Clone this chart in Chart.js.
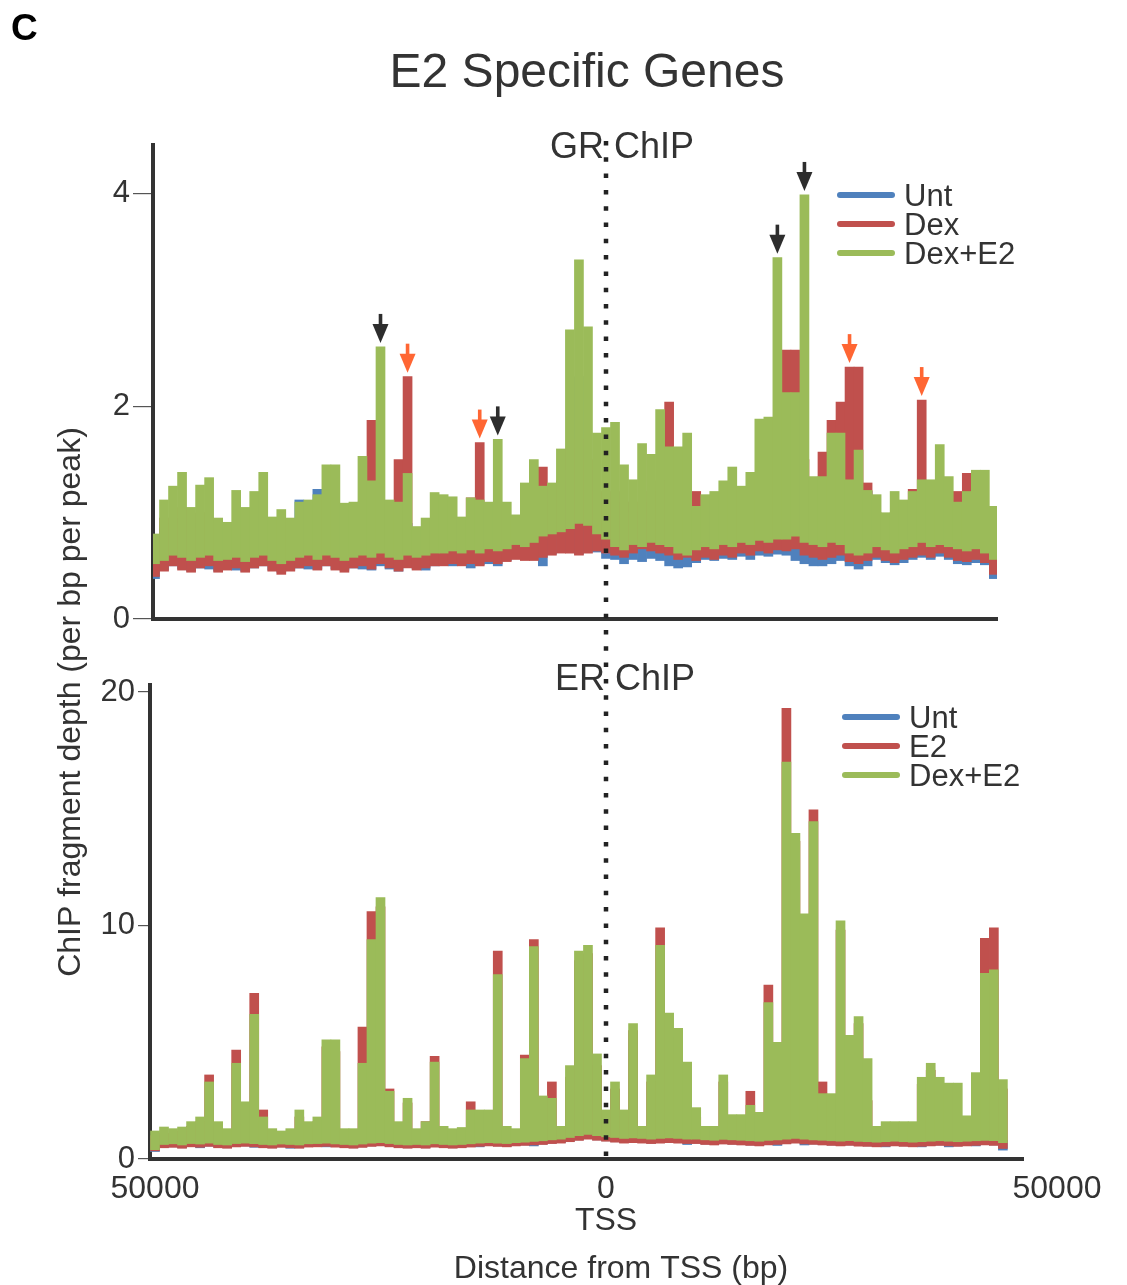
<!DOCTYPE html>
<html>
<head>
<meta charset="utf-8">
<script src="https://cdn.jsdelivr.net/npm/chart.js@4.4.1/dist/chart.umd.min.js"></script>
<style>
  body { margin: 0; background: #fff; }
  #page { position: relative; width: 1127px; height: 1285px; }
  #page canvas { position: absolute; left: 0; top: 0; }
</style>
</head>
<body>
<div id="page">
  <canvas id="gr" width="1127" height="1285"></canvas>
  <canvas id="er" width="1127" height="1285"></canvas>
</div>
<script>
var FONT = '"Liberation Sans", Arial, sans-serif';
var TEXT = '#333';
var AXIS = '#333';
var BLACK_ARROW = '#2d2d2d', ORANGE_ARROW = '#ff6633';

// bin centres, kb from TSS
var binKb = [-50,-49,-48,-47,-46,-45,-44,-43,-42,-41,
  -40,-39,-38,-37,-36,-35,-34,-33,-32,-31,
  -30,-29,-28,-27,-26,-25,-24,-23,-22,-21,
  -20,-19,-18,-17,-16,-15,-14,-13,-12,-11,
  -10,-9,-8,-7,-6,-5,-4,-3,-2,-1,
  0,1,2,3,4,5,6,7,8,9,
  10,11,12,13,14,15,16,17,18,19,
  20,21,22,23,24,25,26,27,28,29,
  30,31,32,33,34,35,36,37,38,39,
  40,41,42,43,44];

// GR ChIP: per-bin low / high of the depth trace
var grUntLo = [0.38,0.46,0.50,0.47,0.45,0.48,0.47,0.45,0.47,0.46,
  0.45,0.48,0.50,0.46,0.44,0.46,0.48,0.47,0.47,0.50,
  0.47,0.46,0.48,0.47,0.46,0.50,0.47,0.45,0.49,0.47,
  0.46,0.50,0.51,0.50,0.51,0.48,0.51,0.52,0.50,0.55,
  0.57,0.56,0.56,0.50,0.61,0.63,0.63,0.61,0.63,0.63,
  0.57,0.56,0.52,0.56,0.54,0.57,0.55,0.50,0.48,0.49,
  0.53,0.56,0.55,0.57,0.56,0.59,0.56,0.60,0.59,0.61,
  0.60,0.55,0.52,0.50,0.50,0.52,0.55,0.50,0.47,0.50,
  0.56,0.53,0.51,0.53,0.56,0.58,0.56,0.59,0.56,0.52,
  0.51,0.53,0.51,0.38];
var grUntHi = [0.70,0.85,0.85,0.95,0.80,0.90,0.90,0.75,0.78,0.85,
  0.80,0.85,0.90,0.78,0.82,0.78,1.12,0.85,1.22,0.95,
  0.90,0.85,0.85,1.00,0.90,1.00,0.85,0.90,0.90,0.78,
  0.80,0.85,0.85,0.90,0.82,0.90,0.88,0.90,0.92,0.85,
  0.88,0.95,1.00,1.20,1.00,1.10,1.40,2.28,1.40,1.10,
  1.00,1.05,1.00,0.95,1.00,1.05,1.10,1.00,0.95,0.90,
  0.95,0.95,0.95,1.00,1.05,0.95,1.00,1.10,1.20,1.20,
  1.20,1.20,1.20,1.00,1.00,1.10,1.10,1.00,1.05,1.20,
  0.95,0.90,0.95,1.00,1.00,1.00,1.00,1.00,0.95,1.00,
  1.00,1.00,0.95,0.85];
var grDexLo = [0.40,0.45,0.50,0.46,0.44,0.48,0.50,0.44,0.46,0.48,
  0.44,0.48,0.50,0.45,0.42,0.45,0.48,0.50,0.46,0.50,
  0.46,0.44,0.48,0.50,0.47,0.52,0.48,0.45,0.48,0.46,
  0.48,0.50,0.50,0.52,0.50,0.52,0.50,0.54,0.52,0.54,
  0.56,0.55,0.55,0.58,0.60,0.62,0.62,0.60,0.62,0.64,
  0.62,0.60,0.58,0.62,0.66,0.64,0.62,0.60,0.56,0.58,
  0.55,0.58,0.56,0.60,0.58,0.62,0.60,0.64,0.62,0.65,
  0.64,0.66,0.60,0.58,0.56,0.58,0.60,0.54,0.52,0.55,
  0.58,0.55,0.53,0.56,0.58,0.60,0.58,0.62,0.58,0.55,
  0.54,0.56,0.53,0.42];
var grDexHi = [0.70,0.95,0.90,1.05,0.85,1.00,0.95,0.80,0.80,0.90,
  0.85,0.90,0.95,0.80,0.85,0.80,0.90,0.85,0.95,1.00,
  0.95,0.90,0.90,1.10,1.87,1.10,0.90,1.50,2.28,0.80,
  0.85,0.90,0.90,0.95,0.85,1.14,1.66,0.95,1.00,0.90,
  0.90,1.05,1.20,1.43,1.10,1.30,1.60,1.69,1.50,1.20,
  1.10,1.20,1.10,1.00,1.10,1.20,1.30,2.04,1.20,1.00,
  1.20,1.00,1.00,1.05,1.10,1.00,1.10,1.20,1.30,1.40,
  2.53,2.53,1.50,1.20,1.57,1.87,2.04,2.37,2.37,1.28,
  1.00,0.95,1.00,1.10,1.22,2.06,1.20,1.10,1.00,1.20,
  1.37,1.10,1.00,0.90];
var grDexE2Lo = [0.52,0.55,0.60,0.58,0.55,0.58,0.60,0.55,0.56,0.58,
  0.54,0.58,0.60,0.55,0.52,0.55,0.58,0.60,0.56,0.60,
  0.58,0.55,0.58,0.60,0.58,0.62,0.58,0.56,0.60,0.58,
  0.60,0.62,0.62,0.64,0.62,0.65,0.62,0.66,0.64,0.66,
  0.70,0.68,0.72,0.78,0.80,0.82,0.85,0.90,0.88,0.80,
  0.75,0.68,0.65,0.70,0.68,0.72,0.70,0.68,0.62,0.60,
  0.65,0.68,0.66,0.70,0.68,0.72,0.70,0.74,0.72,0.75,
  0.75,0.78,0.72,0.70,0.68,0.72,0.70,0.62,0.60,0.62,
  0.68,0.65,0.62,0.66,0.68,0.72,0.68,0.70,0.68,0.66,
  0.64,0.66,0.62,0.56];
var grDexE2Hi = [0.80,1.12,1.25,1.38,1.05,1.26,1.33,0.95,0.91,1.21,
  1.05,1.20,1.38,0.96,1.03,0.95,1.10,1.12,1.17,1.45,
  1.45,1.09,1.10,1.53,1.30,2.56,1.12,1.10,1.37,0.87,
  0.95,1.19,1.17,1.15,0.96,1.14,1.12,1.10,1.69,1.10,
  0.98,1.28,1.50,1.25,1.28,1.60,2.72,3.38,2.75,1.75,
  1.80,1.85,1.45,1.31,1.65,1.55,1.97,1.62,1.62,1.75,
  1.06,1.17,1.20,1.30,1.43,1.25,1.38,1.88,1.90,3.40,
  2.13,2.13,3.99,1.34,1.34,1.75,1.75,1.31,1.59,1.21,
  1.17,1.00,1.20,1.12,1.20,1.31,1.31,1.64,1.34,1.10,
  1.20,1.40,1.40,1.06];

// ER ChIP: per-bin low / high of the depth trace
var erUntLo = [0.32,0.50,0.52,0.48,0.54,0.48,0.55,0.50,0.48,0.54,
  0.56,0.50,0.50,0.48,0.52,0.46,0.48,0.53,0.54,0.52,
  0.53,0.50,0.48,0.52,0.56,0.58,0.54,0.50,0.48,0.50,
  0.48,0.53,0.50,0.48,0.50,0.53,0.52,0.58,0.56,0.54,
  0.58,0.60,0.56,0.64,0.68,0.70,0.76,0.82,0.87,0.82,
  0.78,0.74,0.70,0.72,0.70,0.68,0.70,0.72,0.70,0.62,
  0.68,0.64,0.62,0.66,0.64,0.62,0.60,0.58,0.62,0.58,
  0.67,0.70,0.60,0.64,0.62,0.60,0.58,0.60,0.57,0.56,
  0.54,0.52,0.58,0.56,0.54,0.52,0.58,0.60,0.52,0.56,
  0.58,0.56,0.62,0.60,0.38];
var erUntHi = [0.80,0.90,0.90,1.00,0.90,1.00,0.90,1.00,0.90,1.00,
  0.90,1.10,0.90,0.90,1.00,0.90,1.10,0.90,0.90,1.20,
  1.00,0.90,1.00,0.90,1.10,1.00,0.90,0.90,1.10,0.90,
  1.00,1.20,0.90,1.00,0.90,1.10,0.90,1.00,1.20,0.90,
  0.90,1.20,1.10,1.00,1.30,1.00,1.50,2.20,2.00,1.20,
  1.00,1.30,1.00,1.10,1.00,1.10,1.50,1.10,1.00,1.00,
  1.00,1.00,1.00,1.30,1.00,1.00,1.00,1.00,1.40,1.00,
  1.40,1.20,1.00,1.50,1.40,1.00,1.20,1.00,1.00,1.00,
  0.90,0.90,0.90,0.90,0.90,0.90,1.00,0.90,0.90,0.90,
  0.90,1.00,1.50,1.70,0.80];
var erE2Lo = [0.35,0.48,0.50,0.46,0.52,0.50,0.54,0.48,0.46,0.52,
  0.54,0.52,0.48,0.46,0.50,0.48,0.46,0.51,0.52,0.54,
  0.51,0.48,0.46,0.50,0.54,0.56,0.52,0.48,0.46,0.48,
  0.46,0.51,0.48,0.46,0.48,0.51,0.54,0.56,0.54,0.52,
  0.56,0.58,0.60,0.62,0.66,0.68,0.74,0.80,0.85,0.80,
  0.76,0.72,0.68,0.70,0.68,0.66,0.68,0.70,0.68,0.66,
  0.66,0.62,0.60,0.64,0.62,0.60,0.58,0.56,0.60,0.62,
  0.65,0.68,0.65,0.62,0.60,0.58,0.56,0.58,0.55,0.54,
  0.52,0.54,0.56,0.54,0.52,0.54,0.56,0.58,0.56,0.54,
  0.56,0.58,0.60,0.58,0.45];
var erE2Hi = [1.00,1.10,1.10,1.20,1.40,1.60,3.60,1.40,1.10,4.67,
  2.10,7.10,2.10,1.10,1.00,1.10,1.80,1.40,1.60,4.80,
  4.60,1.10,1.10,5.65,10.60,10.80,3.00,1.40,2.40,1.10,
  1.60,4.40,1.20,1.10,1.20,2.45,1.80,1.80,8.90,1.20,
  1.10,4.45,9.40,2.50,3.30,1.20,3.50,8.50,8.80,4.00,
  1.80,3.00,1.80,5.50,1.20,3.30,9.90,4.50,5.20,3.80,
  1.80,1.20,1.20,3.30,1.60,1.60,2.90,1.80,7.45,4.80,
  19.30,13.60,9.80,14.95,3.30,2.40,9.80,5.00,5.80,2.50,
  1.20,1.40,1.40,1.40,1.40,3.20,3.80,3.20,3.00,1.70,
  1.60,3.40,9.45,9.90,3.00];
var erDexE2Lo = [0.40,0.62,0.65,0.60,0.66,0.64,0.68,0.62,0.60,0.66,
  0.68,0.66,0.62,0.60,0.64,0.62,0.60,0.65,0.66,0.68,
  0.65,0.62,0.60,0.64,0.68,0.70,0.66,0.62,0.60,0.62,
  0.60,0.65,0.62,0.60,0.62,0.65,0.68,0.70,0.68,0.66,
  0.70,0.72,0.75,0.78,0.82,0.85,0.92,1.00,1.05,1.00,
  0.95,0.92,0.88,0.90,0.88,0.85,0.88,0.90,0.88,0.85,
  0.85,0.82,0.80,0.84,0.82,0.80,0.78,0.76,0.80,0.82,
  0.85,0.88,0.85,0.82,0.80,0.78,0.76,0.78,0.75,0.74,
  0.72,0.74,0.76,0.74,0.72,0.74,0.76,0.78,0.76,0.74,
  0.76,0.78,0.80,0.78,0.70];
var erDexE2Hi = [1.20,1.37,1.30,1.37,1.60,1.80,3.30,1.60,1.30,4.10,
  2.45,6.20,1.80,1.30,1.20,1.30,2.10,1.60,1.80,5.10,
  5.10,1.30,1.30,4.10,9.40,11.20,2.90,1.60,2.60,1.30,
  1.60,4.15,1.40,1.30,1.35,2.10,2.10,2.10,7.90,1.40,
  1.30,4.30,9.10,2.70,2.60,1.40,4.00,8.90,9.15,4.50,
  2.10,3.30,2.10,5.80,1.40,3.60,9.15,6.25,5.60,4.15,
  2.20,1.40,1.40,3.60,1.90,1.90,2.30,2.00,6.70,5.00,
  17.00,13.95,10.50,14.45,2.80,2.80,10.20,5.30,6.10,4.30,
  1.40,1.60,1.60,1.60,1.60,3.50,4.10,3.50,3.25,3.25,
  1.85,3.70,7.95,8.10,3.40];

// x axis labels
var xTickValues = [-50000, 0, 50000];
var xTickLabels = ['50000', '0', '50000'];

// peaks flagged with arrows: dataset index, bin index
var grArrows = [
  {set: 2, bin: 25, color: BLACK_ARROW},
  {set: 1, bin: 28, color: ORANGE_ARROW},
  {set: 1, bin: 36, color: ORANGE_ARROW},
  {set: 2, bin: 38, color: BLACK_ARROW},
  {set: 2, bin: 69, color: BLACK_ARROW},
  {set: 2, bin: 72, color: BLACK_ARROW},
  {set: 1, bin: 77, color: ORANGE_ARROW},
  {set: 1, bin: 85, color: ORANGE_ARROW}
];

var COLORS = {unt: '#4F81BD', red: '#C0504D', green: '#9BBB59'};

Chart.defaults.font.family = FONT;
Chart.defaults.color = TEXT;

// one floating bar per bin, spanning the trace's low..high in that bin
function band(label, lo, hi, color, order) {
  return {
    label: label,
    data: hi.map(function(v, i) { return {x: binKb[i] * 1000, y: [lo[i], v]}; }),
    backgroundColor: color,
    borderWidth: 0,
    barPercentage: 1,
    categoryPercentage: 1,
    grouped: false,
    clip: 0,
    order: order
  };
}

function panelScales(xMin, xMax, yMax, yStep, yWidth, tickLen) {
  return {
    x: {
      type: 'linear', min: xMin, max: xMax, offset: false, z: 1,
      grid: {display: false},
      ticks: {display: false},
      border: {display: true, color: AXIS, width: 4},
      afterFit: function(s) { s.height = 0; }
    },
    y: {
      min: 0, max: yMax, z: 1,
      ticks: {stepSize: yStep, includeBounds: false, padding: 3, color: TEXT, font: {size: 31}},
      grid: {display: true, drawOnChartArea: false, drawTicks: true, tickLength: tickLen, color: '#555', lineWidth: 1.2},
      border: {display: true, color: AXIS, width: 4},
      afterFit: function(s) { s.width = yWidth; }
    }
  };
}

// panel name, legend and peak arrows
var panelDecor = {
  id: 'panelDecor',
  afterDatasetsDraw: function(chart, args, opts) {
    var ctx = chart.ctx, xs = chart.scales.x, ys = chart.scales.y;
    ctx.save();
    ctx.fillStyle = TEXT;
    ctx.font = '36px ' + FONT;
    ctx.textAlign = 'center';
    ctx.fillText(opts.name, opts.nameX, opts.nameY);

    ctx.font = '31px ' + FONT;
    ctx.textAlign = 'left';
    chart.data.datasets.forEach(function(ds, k) {
      var y = opts.legendY + k * 29;
      ctx.strokeStyle = ds.backgroundColor;
      ctx.lineWidth = 6;
      ctx.lineCap = 'round';
      ctx.beginPath();
      ctx.moveTo(opts.legendX, y);
      ctx.lineTo(opts.legendX + 52, y);
      ctx.stroke();
      ctx.fillStyle = TEXT;
      ctx.fillText(ds.label, opts.legendX + 64, y + 11);
    });

    (opts.arrows || []).forEach(function(a) {
      var d = chart.data.datasets[a.set].data[a.bin];
      var x = xs.getPixelForValue(d.x);
      var tip = ys.getPixelForValue(d.y[1]) - 4;
      ctx.fillStyle = a.color;
      ctx.fillRect(x - 1.8, tip - 29, 3.6, 12);
      ctx.beginPath();
      ctx.moveTo(x - 8, tip - 19);
      ctx.lineTo(x + 8, tip - 19);
      ctx.lineTo(x, tip);
      ctx.closePath();
      ctx.fill();
    });
    ctx.restore();
  }
};

// figure letter, title and shared y title
var figureText = {
  id: 'figureText',
  afterDraw: function(chart) {
    var ctx = chart.ctx;
    ctx.save();
    ctx.fillStyle = '#000';
    ctx.font = 'bold 37px ' + FONT;
    ctx.textAlign = 'left';
    ctx.fillText('C', 11, 40);

    ctx.fillStyle = TEXT;
    ctx.font = '48px ' + FONT;
    ctx.textAlign = 'center';
    ctx.fillText('E2 Specific Genes', 587, 87);

    ctx.font = '32px ' + FONT;
    ctx.translate(80, 702);
    ctx.rotate(-Math.PI / 2);
    ctx.fillText('ChIP fragment depth (per bp per peak)', 0, 0);
    ctx.restore();
  }
};

function baseOptions(padding, scales, decor) {
  return {
    responsive: false,
    animation: false,
    events: [],
    layout: {padding: padding},
    scales: scales,
    plugins: {
      legend: {display: false},
      tooltip: {enabled: false},
      panelDecor: decor
    }
  };
}

var grChart = new Chart(document.getElementById('gr'), {
  type: 'bar',
  data: {datasets: [
    band('Unt', grUntLo, grUntHi, COLORS.unt, 3),
    band('Dex', grDexLo, grDexHi, COLORS.red, 2),
    band('Dex+E2', grDexE2Lo, grDexE2Hi, COLORS.green, 1)
  ]},
  options: baseOptions(
    {top: 145, bottom: 666, left: 0, right: 130},
    panelScales(-50222, 43348, 4.46, 2, 153, 20),
    {name: 'GR ChIP', nameX: 622, nameY: 158, legendX: 840, legendY: 195, arrows: grArrows}
  ),
  plugins: [panelDecor, figureText]
});

// TSS marker across both panels, x tick labels and x title
var erAxisText = {
  id: 'erAxisText',
  afterDatasetsDraw: function(chart) {
    var ctx = chart.ctx, xs = chart.scales.x, area = chart.chartArea;
    var x0 = xs.getPixelForValue(0);
    ctx.save();
    ctx.strokeStyle = '#222';
    ctx.lineWidth = 4.5;
    ctx.setLineDash([4.5, 11.8]);
    ctx.beginPath();
    ctx.moveTo(x0, grChart.chartArea.top - 4);
    ctx.lineTo(x0, area.bottom);
    ctx.stroke();
    ctx.restore();
  },
  afterDraw: function(chart) {
    var ctx = chart.ctx, xs = chart.scales.x;
    ctx.save();
    ctx.fillStyle = TEXT;
    ctx.font = '32px ' + FONT;
    ctx.textAlign = 'center';
    xTickValues.forEach(function(v, i) {
      ctx.fillText(xTickLabels[i], xs.getPixelForValue(v), 1198);
    });
    ctx.fillText('TSS', xs.getPixelForValue(0), 1230);
    ctx.fillText('Distance from TSS (bp)', 621, 1278);
    ctx.restore();
  }
};

var erChart = new Chart(document.getElementById('er'), {
  type: 'bar',
  data: {datasets: [
    band('Unt', erUntLo, erUntHi, COLORS.unt, 3),
    band('E2', erE2Lo, erE2Hi, COLORS.red, 2),
    band('Dex+E2', erDexE2Lo, erDexE2Hi, COLORS.green, 1)
  ]},
  options: baseOptions(
    {top: 685, bottom: 126, left: 0, right: 104},
    panelScales(-50554, 46230, 20.3, 10, 150, 12),
    {name: 'ER ChIP', nameX: 625, nameY: 690, legendX: 845, legendY: 717}
  ),
  plugins: [panelDecor, erAxisText]
});
</script>
</body>
</html>
